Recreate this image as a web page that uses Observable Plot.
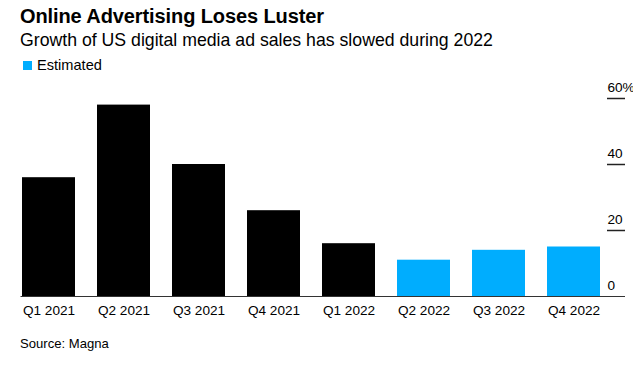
<!DOCTYPE html>
<html>
<head>
<meta charset="utf-8">
<script src="https://cdn.jsdelivr.net/npm/d3@7"></script>
<script src="https://cdn.jsdelivr.net/npm/@observablehq/plot@0.6"></script>
<style>
  html, body { margin: 0; padding: 0; background: #fff; overflow: hidden; }
  body { position: relative; width: 633px; height: 372px; font-family: "Liberation Sans", Arial, sans-serif; color: #000; }
  .abs { position: absolute; left: 20px; white-space: nowrap; line-height: 1; }
  #title { top: 5.6px; font-size: 20px; font-weight: bold; letter-spacing: -0.1px; }
  #subtitle { top: 31.7px; font-size: 17.7px; }
  #legend { top: 58.3px; font-size: 14.6px; left: 22.5px; }
  #legend .sw { display: inline-block; width: 9px; height: 9px; background: #00adfe; margin-right: 5.5px; vertical-align: 0px; }
  #chart { position: absolute; left: 0; top: 76px; }
  #source { top: 337.2px; font-size: 13.1px; }
</style>
</head>
<body>
<div id="title" class="abs">Online Advertising Loses Luster</div>
<div id="subtitle" class="abs">Growth of US digital media ad sales has slowed during 2022</div>
<div id="legend" class="abs"><span class="sw"></span>Estimated</div>
<div id="chart"></div>
<div id="source" class="abs">Source: Magna</div>
<script>
const quarters = ["Q1 2021", "Q2 2021", "Q3 2021", "Q4 2021", "Q1 2022", "Q2 2022", "Q3 2022", "Q4 2022"];
const growth = [36, 58, 40, 26, 16, 11, 14, 15];
const estimated = [false, false, false, false, false, true, true, true];
const yTicks = [0, 20, 40, 60];

const data = quarters.map((q, i) => ({quarter: q, value: growth[i], status: estimated[i] ? "Estimated" : "Actual"}));

const chart = Plot.plot({
  width: 633,
  height: 260,
  marginLeft: 20.5,
  marginRight: 33,
  marginTop: 22,
  marginBottom: 40,
  style: {fontSize: "13.6px", fontFamily: "'Liberation Sans', Arial, sans-serif", color: "#000", background: "transparent"},
  x: {domain: quarters, paddingInner: 0.3, paddingOuter: 0, label: null},
  y: {domain: [0, 60], label: null},
  color: {domain: ["Actual", "Estimated"], range: ["#000000", "#00adfe"]},
  marks: [
    Plot.barY(data, {x: "quarter", y: "value", fill: "status"}),
    Plot.ruleY([0], {stroke: "#333", strokeWidth: 1, insetRight: -25}),
    Plot.ruleY(yTicks.filter(d => d > 0), {stroke: "#222", strokeWidth: 1.5, insetLeft: 586.5, insetRight: -25}),
    Plot.axisY({anchor: "right", ticks: yTicks, tickSize: 0, tickPadding: 7, lineAnchor: "bottom", dy: -7, fontSize: 13.6, fill: "#000",
      tickFormat: d => d === 60 ? "60%" : String(d)}),
    Plot.axisX({tickSize: 0, tickPadding: 9, fontSize: 13.6, fill: "#000"})
  ]
});
document.getElementById("chart").appendChild(chart);
</script>
</body>
</html>
